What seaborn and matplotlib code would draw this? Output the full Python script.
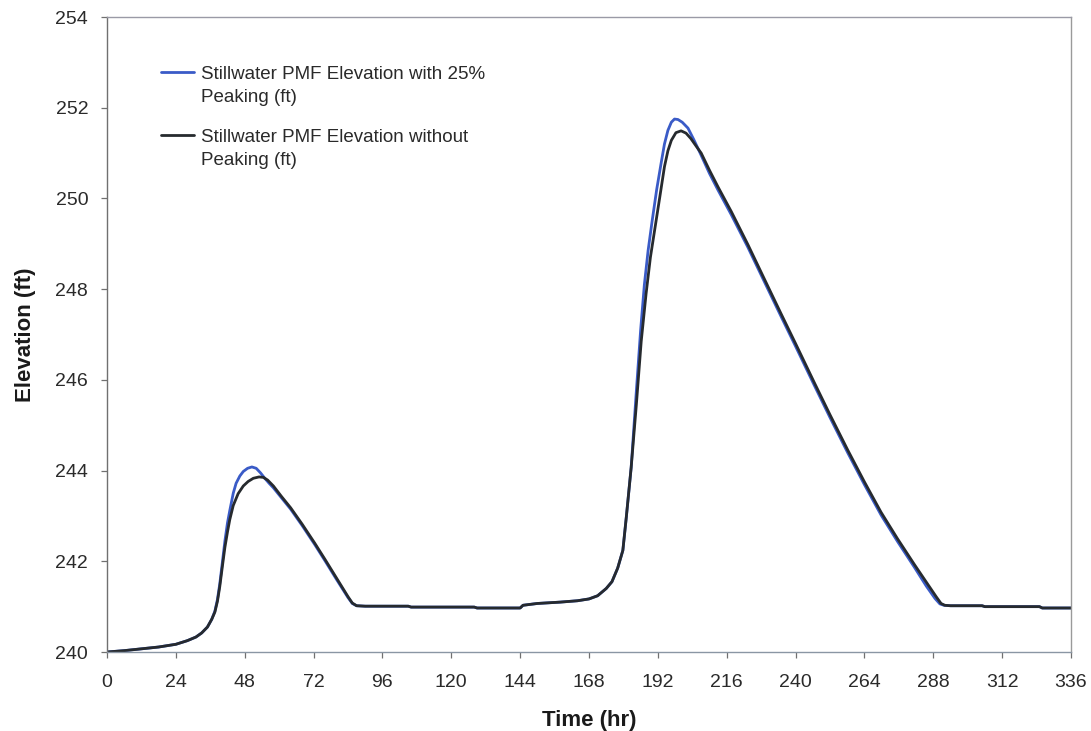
import matplotlib
matplotlib.use("Agg")
import matplotlib.pyplot as plt
import numpy as np
import pandas as pd
import seaborn as sns

# Stillwater PMF elevation hydrographs (time in hours, elevation in ft)
t_with = [0, 6, 12, 18, 24, 28, 31, 33, 35, 36.5, 37.6, 38.5, 39.3, 40.2, 41.1, 42,
          42.8, 44, 45, 46.3, 47.5, 49, 50.5, 52, 53.5, 55, 56.5, 58, 60.8, 64, 68,
          72.4, 76, 80, 84, 85.5, 87, 90, 105, 106, 128, 129, 144, 145, 150, 158,
          164, 168, 171, 174, 176, 178, 179.8, 181, 182.7, 184.5, 186, 187.3, 188.6,
          190, 191.6, 193.2, 194.3, 195.5, 196.7, 197.8, 199, 200.5, 202.5, 204.5,
          206, 207.1, 210, 213, 217.6, 223.4, 229, 235, 240, 246.6, 252, 258.2,
          264, 269.8, 275.5, 281.4, 285.6, 288.6, 290.3, 291.7, 294, 305, 306, 325,
          326, 336]
elev_with = [240.00, 240.03, 240.07, 240.11, 240.17, 240.25, 240.33, 240.42, 240.55,
             240.72, 240.90, 241.16, 241.50, 241.97, 242.45, 242.85, 243.12, 243.50,
             243.72, 243.88, 243.98, 244.05, 244.08, 244.05, 243.95, 243.83, 243.72,
             243.62, 243.40, 243.15, 242.79, 242.37, 242.01, 241.60, 241.20, 241.07,
             241.02, 241.01, 241.01, 240.99, 240.99, 240.97, 240.97, 241.03, 241.07,
             241.10, 241.13, 241.17, 241.24, 241.40, 241.55, 241.85, 242.24, 242.97,
             244.07, 245.75, 247.10, 248.10, 248.85, 249.50, 250.20, 250.80, 251.20,
             251.50, 251.68, 251.75, 251.74, 251.68, 251.55, 251.30, 251.10, 250.95,
             250.55, 250.18, 249.64, 248.92, 248.18, 247.39, 246.74, 245.87, 245.17,
             244.39, 243.69, 243.02, 242.44, 241.87, 241.45, 241.18, 241.06, 241.03,
             241.02, 241.02, 241.00, 241.00, 240.97, 240.97]

t_without = [0, 6, 12, 18, 24, 28, 31, 33, 35, 36.5, 37.6, 38.5, 39.3, 40.2, 41.1, 42,
             42.8, 44, 45.7, 47.5, 49.2, 51, 53, 54.5, 56, 58, 60.8, 64, 68, 72.4, 76,
             80, 84, 85.5, 87, 90, 105, 106, 128, 129, 144, 145, 150, 158, 164, 168,
             171, 174, 176, 178, 179.8, 181, 182.7, 184.5, 186.2, 187.9, 189.4, 191,
             192.6, 194.3, 195.5, 196.7, 198.3, 200.1, 201.8, 203.5, 205.5, 207.1, 210,
             213, 217.6, 223.4, 229, 235, 240, 246.6, 252, 258.2, 264, 269.8, 275.5,
             281.4, 286, 289, 290.7, 292, 294, 305, 306, 325, 326, 336]
elev_without = [240.00, 240.03, 240.07, 240.11, 240.17, 240.25, 240.33, 240.42, 240.55,
                240.72, 240.88, 241.12, 241.44, 241.88, 242.31, 242.65, 242.92, 243.23,
                243.49, 243.66, 243.76, 243.83, 243.86, 243.85, 243.79, 243.66, 243.43,
                243.18, 242.82, 242.40, 242.04, 241.63, 241.22, 241.08, 241.02, 241.01,
                241.01, 240.99, 240.99, 240.97, 240.97, 241.03, 241.07, 241.10, 241.13,
                241.17, 241.24, 241.40, 241.55, 241.85, 242.24, 242.97, 244.07, 245.45,
                246.85, 247.90, 248.70, 249.35, 250.00, 250.70, 251.05, 251.28, 251.45,
                251.49, 251.44, 251.32, 251.14, 251.00, 250.62, 250.25, 249.71, 248.98,
                248.24, 247.45, 246.80, 245.93, 245.23, 244.45, 243.75, 243.08, 242.50,
                241.93, 241.50, 241.22, 241.07, 241.03, 241.02, 241.02, 241.00, 241.00,
                240.97, 240.97]

label_with = "Stillwater PMF Elevation with 25%\nPeaking (ft)"
label_without = "Stillwater PMF Elevation without\nPeaking (ft)"
x_ticks = list(range(0, 337, 24))
y_ticks = list(range(240, 255, 2))

df = pd.concat([
    pd.DataFrame({"Time (hr)": t_with, "Elevation (ft)": elev_with, "series": label_with}),
    pd.DataFrame({"Time (hr)": t_without, "Elevation (ft)": elev_without, "series": label_without}),
], ignore_index=True)

sns.set_theme(style="ticks")
plt.rcParams["font.family"] = ["Liberation Sans", "DejaVu Sans"]

fig = plt.figure(figsize=(10.91, 7.31), dpi=100)
ax = fig.add_axes([107 / 1091, 79 / 731, 964 / 1091, 635 / 731])

palette = {label_with: "#3a5bc7", label_without: "#262a2e"}
sns.lineplot(data=df, x="Time (hr)", y="Elevation (ft)", hue="series",
             hue_order=[label_with, label_without], palette=palette,
             estimator=None, sort=False, linewidth=2.0, ax=ax)

ax.set_xlim(0, 336)
ax.set_ylim(240, 254)
ax.set_xticks(x_ticks)
ax.set_yticks(y_ticks)
ax.tick_params(axis="both", direction="out", length=4.5, width=0.9,
               color="#707070", labelsize=14, labelcolor="#2a2a2a")
ax.tick_params(axis="x", pad=11)
ax.tick_params(axis="y", pad=9)

for name, sp in ax.spines.items():
    sp.set_visible(True)
    sp.set_linewidth(1.0)
ax.spines["left"].set_color("#707070")
ax.spines["bottom"].set_color("#8a96a4")
ax.spines["top"].set_color("#9a9aa6")
ax.spines["right"].set_color("#9a9a9a")

ax.set_xlabel("Time (hr)", fontsize=16, fontweight="bold", color="#1a1a1a", labelpad=14)
ax.set_ylabel("Elevation (ft)", fontsize=16, fontweight="bold", color="#1a1a1a", labelpad=14)

handles, labels = ax.get_legend_handles_labels()
leg = ax.legend(handles, labels, loc="upper left", bbox_to_anchor=(0.039, 0.950),
                frameon=False, fontsize=13.5, handlelength=1.75, handletextpad=0.35,
                labelspacing=1.2, labelcolor="#2a2a2a")
for txt in leg.get_texts():
    txt.set_linespacing(1.5)
# put each legend key level with the first line of its two-line label
for h in leg.legend_handles:
    h.set_ydata(np.asarray(h.get_ydata()) + 9.9)

fig.savefig("out.png", dpi=100)
